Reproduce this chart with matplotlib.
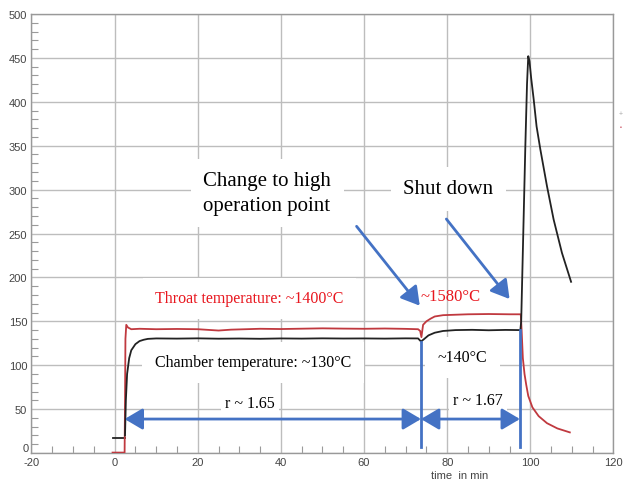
import numpy as np
import matplotlib.pyplot as plt
from matplotlib.patches import FancyArrowPatch
from matplotlib.ticker import MultipleLocator, FuncFormatter

# chamber temperature trace (black)
chamber_pre_x = [-0.5, 2.4]
chamber_pre_y = [17, 17]
chamber_x = [2.5, 2.7, 3.0, 3.5, 4.0, 5.0, 6.0, 7.0, 8.0, 10, 15, 20, 25, 30, 35, 40,
             45, 50, 55, 60, 65, 70, 73.0, 73.7, 74.5, 75.5, 77, 79, 82, 86, 90, 94,
             97.6, 97.8, 98.3, 98.8, 99.2, 99.5, 99.8, 100.2, 100.8, 101.5, 102.4,
             104, 105.6, 107.6, 109.8]
chamber_y = [20, 60, 90, 108, 117, 124, 127.5, 129, 130, 130.5, 130.3, 130.6, 130.2,
             130.4, 130.1, 130.5, 130.3, 130.6, 130.4, 130.5, 130.3, 130.6, 130.5, 127,
             130, 134, 137, 139, 140, 140.3, 139.8, 140.2,
             140, 150, 250, 350, 420, 452, 446, 427, 403, 372, 346,
             304, 266, 228, 195]

# throat temperature trace (red)
throat_x = [-0.5, 2.4, 2.5, 2.6, 2.8, 3.2, 4, 6, 10, 15, 20, 25, 28, 35, 40, 45, 50,
            55, 60, 65, 70, 73, 73.5, 73.8, 74.2, 75, 76, 77, 79, 85, 90, 95,
            97.7, 97.9, 98.2, 98.6, 99, 99.5, 100.5, 102, 104, 106.5, 109.5]
throat_y = [0.5, 0.5, 60, 130, 146, 143, 141, 141.5, 141, 141.3, 141, 139.5, 140.5,
            141.5, 141.2, 141.6, 142, 141.7, 141.5, 141.8, 141.4, 141, 139, 132,
            146, 150, 153, 155.5, 157, 158, 158.3, 158,
            158, 140, 108, 90, 78, 65, 52, 42, 34, 28, 23.5]

# phase boundaries and ratio arrows
t_ignition = 2.4
t_switch = 73.7
t_shutdown = 97.5
arrow_level = 38.7

plt.rcParams['font.family'] = ['Liberation Sans', 'DejaVu Sans']
plt.rcParams['axes.unicode_minus'] = False
serif = ['Liberation Serif', 'DejaVu Serif']
blue = '#4472c4'
tick_grey = '#444444'

fig = plt.figure(figsize=(6.26, 4.81), dpi=100)
ax = fig.add_axes([0.0503, 0.0561, 0.9297, 0.9127])

ax.set_xlim(-20, 120)
ax.set_ylim(0, 500)
ax.xaxis.set_major_locator(MultipleLocator(20))
ax.xaxis.set_minor_locator(MultipleLocator(5))
ax.yaxis.set_major_locator(MultipleLocator(50))
ax.yaxis.set_minor_locator(MultipleLocator(10))
# the y "0" is drawn by hand so it sits just above the "-20"
ax.yaxis.set_major_formatter(FuncFormatter(lambda v, p: '' if v == 0 else f'{v:g}'))
ax.text(-0.005, 0, '0', transform=ax.get_yaxis_transform(), ha='right', va='bottom',
        fontsize=8, color=tick_grey)
ax.grid(True, which='major', color='#bdbdbd', lw=1.0, zorder=0)
ax.set_axisbelow(True)
ax.tick_params(which='major', length=0, labelsize=8, labelcolor=tick_grey, pad=3)
ax.tick_params(which='minor', direction='in', length=5, color='#9a9a9a', width=0.8)
for s in ax.spines.values():
    s.set_color('#999999')
    s.set_linewidth(1.0)

ax.set_xlabel('time  in min', fontsize=8, color=tick_grey)
ax.xaxis.set_label_coords(0.735, -0.039)

ax.plot(chamber_pre_x, chamber_pre_y, color='#222222', lw=1.3, zorder=3)
ax.plot(throat_x, throat_y, color='#c0393f', lw=1.3, zorder=3)
ax.plot(chamber_x, chamber_y, color='#222222', lw=1.3, zorder=4)

# annotations with white backgrounds over the grid
def label(x, y, s, color='black', size=11.5, pad=4, ha='center'):
    ax.text(x, y, s, color=color, fontsize=size, family=serif, ha=ha, va='center',
            zorder=2, linespacing=1.4,
            bbox=dict(facecolor='white', edgecolor='none', pad=pad))

label(21.3, 296, 'Change to high\noperation point', size=15, pad=9, ha='left')
label(80.3, 300.7, 'Shut down', size=15, pad=9)
label(32.4, 176.5, 'Throat temperature: ~1400°C', color='#e8161e', pad=9)
label(33.3, 103.3, 'Chamber temperature: ~130°C', pad=9)
ax.text(80.8, 178.8, '~1580°C', color='#e8161e', fontsize=12, family=serif,
        ha='center', va='center', zorder=5)
label(83.7, 109.3, '~140°C', pad=9)
label(32.6, 57, 'r ~ 1.65', pad=3)
label(87.5, 60, 'r ~ 1.67', pad=3)

# blue arrows
def arrow(p0, p1, style):
    ax.add_patch(FancyArrowPatch(p0, p1, arrowstyle=style, color=blue, lw=2,
                                 mutation_scale=10, shrinkA=0, shrinkB=0, zorder=6))

arrow((58.2, 258.2), (73.4, 167.8), '-|>,head_length=1.1,head_width=0.65')
arrow((79.8, 266.5), (95.0, 175.4), '-|>,head_length=1.1,head_width=0.65')
arrow((t_ignition, arrow_level), (t_switch, arrow_level),
      '<|-|>,head_length=1.1,head_width=0.65')
arrow((t_switch, arrow_level), (t_shutdown, arrow_level),
      '<|-|>,head_length=1.1,head_width=0.65')
ax.plot([t_switch, t_switch], [7, 127], color=blue, lw=2, zorder=6)
ax.plot([t_shutdown, t_shutdown], [7, 140], color=blue, lw=2, zorder=6)

# stray legend marks at the right edge
fig.text(0.9915, 0.761, '+', fontsize=5, color='#aaaaaa', ha='center', va='center')
fig.text(0.9915, 0.734, '▪', fontsize=4, color='#d06070', ha='center', va='center')

fig.savefig('out.png', dpi=100)
